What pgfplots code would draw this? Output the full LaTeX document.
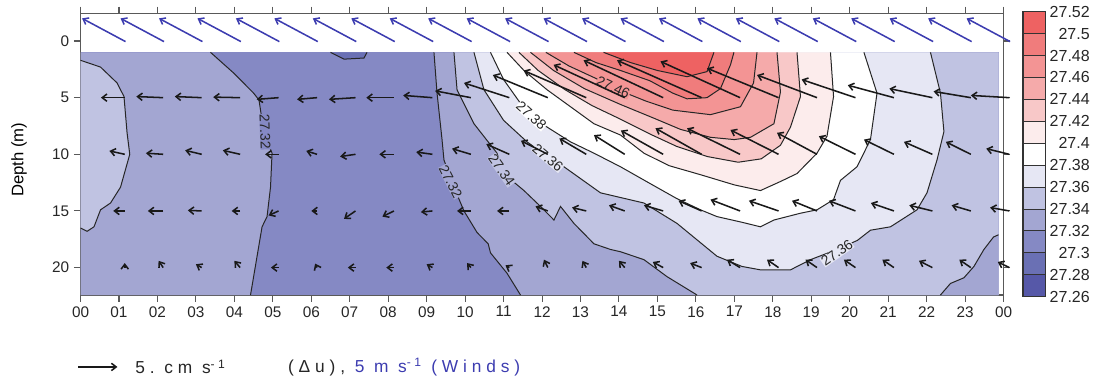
\documentclass[border=0pt]{standalone}
\usepackage{fontspec}
\setmainfont{Liberation Sans}
\newfontfamily\legfont[LetterSpace=28]{Liberation Sans}
\usepackage{pgfplots}
\pgfplotsset{compat=1.18}
\usepackage{pgfplotstable}
\usetikzlibrary{arrows.meta}

\definecolor{cA}{HTML}{5658A8}
\definecolor{cB}{HTML}{6A70B4}
\definecolor{cC}{HTML}{8589C4}
\definecolor{cD}{HTML}{A3A6D2}
\definecolor{cE}{HTML}{C0C3E2}
\definecolor{cF}{HTML}{E6E7F4}
\definecolor{cG}{HTML}{FFFFFF}
\definecolor{cH}{HTML}{FCECEC}
\definecolor{cI}{HTML}{F8C8C8}
\definecolor{cJ}{HTML}{F5AAAA}
\definecolor{cK}{HTML}{F39494}
\definecolor{cL}{HTML}{F07C7C}
\definecolor{cM}{HTML}{EE6262}
\definecolor{wind}{HTML}{3C3CB0}

\tikzset{
  cline/.style={draw=black!85, line width=0.75pt},
  clab/.style={font=\fontsize{10.5}{12}\selectfont, inner sep=0.2pt, text=black!85},
  vec/.style={black!90, line width=1.15pt, -{Straight Barb[length=3.6pt,width=5.5pt]}},
}

% contour lines (hour, depth)
\pgfplotstableread{
x y
3.38 1
3.99 2.85
4.5 4.6
4.64 5.2
4.77 8.1
4.98 9.9
4.94 12.9
4.85 15.5
4.72 16.4
4.42 22.42
}\cLa
\pgfplotstableread{
x y
9.19 1
9.27 4.6
9.4 8.7
9.45 10.5
9.71 12.9
9.97 15.0
10.31 16.9
10.6 17.9
10.66 18.7
11.09 20.5
11.44 22.42
}\cRa
\pgfplotstableread{
x y
0 1.7
0.52 2.3
0.95 3.7
1.13 4.9
1.21 8.1
1.28 10
1.04 12.9
0.78 14.3
0.52 14.9
0.35 16.4
0.17 16.8
0 16.5
}\cLp
\pgfplotstableread{
x y
6.5 1
6.85 1.6
7.37 1.5
7.45 1
}\cTp
\pgfplotstableread{
x y
9.71 1
9.79 4.3
10.23 7.3
10.83 9.9
11.0 11.7
11.53 13.2
11.96 14.6
12.31 15.8
12.48 14.6
12.83 16.1
13.35 17.9
13.78 18.4
14.04 18.6
14.65 19.3
15.25 20.8
16.03 22.42
}\cRb
\pgfplotstableread{
x y
22.36 22.42
22.62 21.4
22.97 20.9
23.23 19.9
23.49 18.4
23.74 17.3
23.87 17.1
}\cBR
\pgfplotstableread{
x y
10.23 1
10.49 4.3
11.0 7.0
11.61 8.9
12.31 10.6
12.57 11.1
13.52 13.4
14.65 14.3
15.51 16.1
16.55 19.0
17.2 19.9
17.68 20.2
18.46 20.2
18.98 19.3
19.67 18.4
20.2 17.6
20.54 16.7
21.06 16.4
21.75 14.9
22.01 13.4
22.27 10.5
22.45 8.0
22.36 4.6
22.1 1
}\cRc
\pgfplotstableread{
x y
10.66 1
11.0 3.4
11.44 5.5
11.9 7.1
12.74 8.9
13.35 9.9
14.04 11.1
14.82 12.6
15.5 13.9
16.12 14.9
16.55 15.5
17.2 16.0
17.68 16.4
18.03 15.8
18.72 15.2
19.15 14.9
19.58 14.0
19.76 12.3
20.19 11.1
20.54 8.7
20.71 4.6
20.37 1
}\cRd
\pgfplotstableread{
x y
11.09 1
11.53 2.6
12.13 4.3
12.74 5.8
13.35 7.3
14.04 8.3
14.65 9.9
15.3 11.0
16.12 11.8
17.0 12.7
17.68 13.2
18.2 12.4
18.63 11.7
19.15 9.9
19.41 8.4
19.58 4.9
19.5 1
}\cRe
\pgfplotstableread{
x y
11.4 1
11.9 2.6
12.6 4.3
13.3 5.7
14.04 6.9
14.8 8.2
15.5 9.3
16.3 10.2
17.1 10.7
17.7 10.4
18.2 9.2
18.46 7.6
18.72 4.9
18.63 1
}\cRf
\pgfplotstableread{
x y
11.7 1
12.3 2.6
13.1 4.2
14.04 5.6
14.9 6.8
15.6 7.8
16.38 8.5
17.0 8.7
17.42 8.5
18.03 7.3
18.2 4.5
18.11 1
}\cRg
\pgfplotstableread{
x y
12.1 1
12.7 2.2
13.4 3.3
14.04 4.4
14.7 5.3
15.4 6.1
16.38 6.5
17.16 5.8
17.5 3.7
17.59 1
}\cRh
\pgfplotstableread{
x y
12.83 1
13.4 1.9
14.04 2.6
14.8 3.5
15.4 4.6
15.77 5.1
16.29 5.0
16.64 4.2
16.9 2.1
16.99 1
}\cRi
\pgfplotstableread{
x y
13.6 1
14.3 1.9
15.0 2.6
15.77 3.15
16.29 2.7
16.47 1
}\cRj

% current vectors (tail hour, depth, du, dv)
\pgfplotstableread{
x y u v
1.15 5 -0.62 0
2.15 5 -0.70 -0.1
3.15 5 -0.70 -0.1
4.15 5 -0.70 -0.05
5.15 5 -0.57 0.15
6.15 5 -0.52 0.15
7.15 5 -0.69 0.15
8.15 5 -0.72 0
9.15 5 -0.76 -0.2
10.15 5 -0.93 -0.6
11.15 5 -1.18 -1.3
12.15 5 -1.43 -2.0
13.15 5 -1.63 -2.4
14.15 5 -1.85 -2.9
15.15 5 -2.07 -3.3
16.15 5 -2.2 -3.3
17.15 5 -2.07 -3.2
18.15 5 -1.86 -2.6
19.15 5 -1.56 -2.0
20.15 5 -1.4 -1.6
21.15 5 -1.2 -1.1
22.15 5 -1.12 -0.8
23.15 5 -0.97 -0.55
24.15 5 -1.0 -0.2
}\vecfive
\pgfplotstableread{
x y u v
1.15 10 -0.4 -0.3
2.15 10 -0.45 -0.1
3.15 10 -0.43 -0.35
4.15 10 -0.45 -0.35
5.15 10 -0.35 0
6.15 10 -0.28 -0.3
7.15 10 -0.4 0.2
8.15 10 -0.38 0
9.15 10 -0.42 -0.2
10.15 10 -0.49 -0.5
11.15 10 -0.6 -0.9
12.15 10 -0.7 -1.2
13.15 10 -0.7 -1.4
14.15 10 -0.8 -1.7
15.15 10 -1.1 -2.1
16.15 10 -1.2 -2.3
17.15 10 -1.38 -2.3
18.15 10 -1.25 -2.15
19.15 10 -1.04 -1.9
20.15 10 -0.95 -1.6
21.15 10 -0.78 -1.3
22.15 10 -0.74 -1.1
23.15 10 -0.65 -1.1
24.15 10 -0.6 -0.5
}\vecten
\pgfplotstableread{
x y u v
1.15 15 -0.3 0
2.15 15 -0.4 0
3.15 15 -0.36 -0.05
4.15 15 -0.22 0
5.15 15 -0.26 0.4
6.15 15 -0.15 0
7.15 15 -0.3 0.7
8.15 15 -0.3 0.5
9.15 15 -0.3 0.1
10.15 15 -0.36 0
11.15 15 -0.32 0
12.15 15 -0.32 -0.4
13.15 15 -0.37 -0.3
14.15 15 -0.41 -0.5
15.15 15 -0.5 -0.5
16.15 15 -0.6 -0.9
17.15 15 -0.77 -1.0
18.15 15 -0.77 -0.9
19.15 15 -0.65 -0.9
20.15 15 -0.69 -0.9
21.15 15 -0.6 -0.7
22.15 15 -0.6 -0.5
23.15 15 -0.5 -0.5
24.15 15 -0.5 -0.3
}\vecfifteen
\pgfplotstableread{
x y u v
1.15 20 0 -0.4
2.15 20 -0.12 -0.6
3.15 20 -0.15 -0.3
4.15 20 -0.15 -0.6
5.15 20 -0.2 0
6.15 20 -0.05 -0.35
7.15 20 -0.2 0
8.15 20 -0.2 0
9.15 20 -0.15 -0.3
10.15 20 -0.1 -0.4
11.15 20 -0.1 -0.2
12.15 20 -0.1 -0.7
13.15 20 -0.1 -0.6
14.15 20 -0.15 -0.6
15.15 20 -0.27 -0.5
16.15 20 -0.3 -0.4
17.15 20 -0.34 -0.7
18.15 20 -0.3 -0.7
19.15 20 -0.3 -0.7
20.15 20 -0.3 -0.7
21.15 20 -0.3 -0.7
22.15 20 -0.35 -0.6
23.15 20 -0.3 -0.7
24.15 20 -0.3 -0.5
}\vectwenty
\pgfplotstableread{
x y u v
1.17 0.05 -1.13 -2.05
2.17 0.05 -1.13 -2.05
3.17 0.05 -1.13 -2.05
4.17 0.05 -1.13 -2.05
5.17 0.05 -1.13 -2.05
6.17 0.05 -1.13 -2.05
7.17 0.05 -1.13 -2.05
8.17 0.05 -1.13 -2.05
9.17 0.05 -1.13 -2.05
10.17 0.05 -1.13 -2.05
11.17 0.05 -1.13 -2.05
12.17 0.05 -1.13 -2.05
13.17 0.05 -1.13 -2.05
14.17 0.05 -1.13 -2.05
15.17 0.05 -1.13 -2.05
16.17 0.05 -1.13 -2.05
17.17 0.05 -1.13 -2.05
18.17 0.05 -1.13 -2.05
19.17 0.05 -1.13 -2.05
20.17 0.05 -1.13 -2.05
21.17 0.05 -1.13 -2.05
22.17 0.05 -1.13 -2.05
23.17 0.05 -1.13 -2.05
24.17 0.05 -1.13 -2.05
}\vecwind

\begin{document}
\begin{tikzpicture}
\begin{axis}[
  name=main, scale only axis, width=692.25pt, height=211.3pt,
  xmin=0, xmax=24, ymin=-2.45, ymax=22.42, y dir=reverse, clip=false,
  axis line style={draw=black!65, line width=1.1pt},
  tick align=outside, major tick length=5pt,
  tick style={draw=black!65, line width=0.8pt},
  xtick={0,1,...,24},
  xticklabels={00,01,02,03,04,05,06,07,08,09,10,11,12,13,14,15,16,17,18,19,20,21,22,23,00},
  ytick={0,5,10,15,20}, yticklabels={0,5,10,15,20},
  ticklabel style={font=\fontsize{11.5}{13}\selectfont, text=black!85},
  ylabel={Depth (m)},
  ylabel style={font=\fontsize{12.5}{14}\selectfont, at={(axis description cs:-0.058,0.48)}, anchor=south, inner sep=0pt},
]
% filled contours (painter's order)
\addplot[fill=cC, draw=none] coordinates {(0,1) (23.87,1) (23.87,22.42) (0,22.42)} -- cycle;
\addplot[fill=cD, draw=none] table {\cLa} -- (axis cs:0,22.42) -- (axis cs:0,1) -- cycle;
\addplot[fill=cD, draw=none] table {\cRa} -- (axis cs:23.87,22.42) -- (axis cs:23.87,1) -- cycle;
\addplot[fill=cB, draw=none] table {\cTp} -- cycle;
\addplot[fill=cE, draw=none] table {\cLp} -- cycle;
\addplot[fill=cE, draw=none] table {\cRb} -- (axis cs:23.87,22.42) -- (axis cs:23.87,1) -- cycle;
\addplot[fill=cD, draw=none] table {\cBR} -- (axis cs:23.87,22.42) -- cycle;
\addplot[fill=cF, draw=none] table {\cRc} -- cycle;
\addplot[fill=cG, draw=none] table {\cRd} -- cycle;
\addplot[fill=cH, draw=none] table {\cRe} -- cycle;
\addplot[fill=cI, draw=none] table {\cRf} -- cycle;
\addplot[fill=cJ, draw=none] table {\cRg} -- cycle;
\addplot[fill=cK, draw=none] table {\cRh} -- cycle;
\addplot[fill=cL, draw=none] table {\cRi} -- cycle;
\addplot[fill=cM, draw=none] table {\cRj} -- cycle;
% contour lines
\addplot[cline] table {\cLa};
\addplot[cline] table {\cRa};
\addplot[cline] table {\cTp};
\addplot[cline] table {\cLp};
\addplot[cline] table {\cRb};
\addplot[cline] table {\cBR};
\addplot[cline] table {\cRc};
\addplot[cline] table {\cRd};
\addplot[cline] table {\cRe};
\addplot[cline] table {\cRf};
\addplot[cline] table {\cRg};
\addplot[cline] table {\cRh};
\addplot[cline] table {\cRi};
\addplot[cline] table {\cRj};
% contour labels
\node[clab, rotate=-88, fill=cC] at (axis cs:4.8,8.0) {27.32};
\node[clab, rotate=-63, fill=cD] at (axis cs:9.62,12.4) {27.32};
\node[clab, rotate=-55, fill=cE] at (axis cs:10.95,11.4) {27.34};
\node[clab, rotate=-40, fill=cF] at (axis cs:12.15,10.3) {27.36};
\node[clab, rotate=-42, fill=cG] at (axis cs:11.72,6.6) {27.38};
\node[clab, rotate=-25, fill=cK] at (axis cs:13.85,4.1) {27.46};
\node[clab, rotate=35, fill=cF] at (axis cs:19.67,18.7) {27.36};
% vectors
\addplot[vec, quiver={u=\thisrow{u}, v=\thisrow{v}}] table {\vecfive};
\addplot[vec, quiver={u=\thisrow{u}, v=\thisrow{v}}] table {\vecten};
\addplot[vec, quiver={u=\thisrow{u}, v=\thisrow{v}}] table {\vecfifteen};
\addplot[vec, quiver={u=\thisrow{u}, v=\thisrow{v}}] table {\vectwenty};
\addplot[vec, wind, quiver={u=\thisrow{u}, v=\thisrow{v}}] table {\vecwind};
% legend key
\draw[vec] (axis cs:-0.065,28.77) -- (axis cs:0.96,28.77);
\node[anchor=west, inner sep=0pt, font=\fontsize{13}{15}\selectfont, text=black!85] at (axis cs:1.42,28.77) {\legfont 5.\ cm\ s\textsuperscript{-1}};
\node[anchor=west, inner sep=0pt, font=\fontsize{13}{15}\selectfont, text=black!85] at (axis cs:5.39,28.77) {\legfont (Δu), \textcolor{wind}{5\ m\ s\textsuperscript{-1} (Winds)}};
\end{axis}

\begin{axis}[
  at={(main.north east)}, anchor=north west, xshift=14.6pt, yshift=1.2pt,
  scale only axis, width=16.5pt, height=213.75pt,
  xmin=0, xmax=1, ymin=0, ymax=13,
  xtick=\empty, ytick={0,1,...,13},
  yticklabels={27.26,27.28,27.3,27.32,27.34,27.36,27.38,27.4,27.42,27.44,27.46,27.48,27.5,27.52},
  yticklabel pos=right, major tick length=0pt,
  axis line style={draw=black!80, line width=0.8pt},
  yticklabel style={font=\fontsize{12}{14}\selectfont, text width=30pt, align=right, text=black!85},
]
\addplot[fill=cA, draw=black!80, line width=0.7pt] coordinates {(0,0) (1,0) (1,1) (0,1)} -- cycle;
\addplot[fill=cB, draw=black!80, line width=0.7pt] coordinates {(0,1) (1,1) (1,2) (0,2)} -- cycle;
\addplot[fill=cC, draw=black!80, line width=0.7pt] coordinates {(0,2) (1,2) (1,3) (0,3)} -- cycle;
\addplot[fill=cD, draw=black!80, line width=0.7pt] coordinates {(0,3) (1,3) (1,4) (0,4)} -- cycle;
\addplot[fill=cE, draw=black!80, line width=0.7pt] coordinates {(0,4) (1,4) (1,5) (0,5)} -- cycle;
\addplot[fill=cF, draw=black!80, line width=0.7pt] coordinates {(0,5) (1,5) (1,6) (0,6)} -- cycle;
\addplot[fill=cG, draw=black!80, line width=0.7pt] coordinates {(0,6) (1,6) (1,7) (0,7)} -- cycle;
\addplot[fill=cH, draw=black!80, line width=0.7pt] coordinates {(0,7) (1,7) (1,8) (0,8)} -- cycle;
\addplot[fill=cI, draw=black!80, line width=0.7pt] coordinates {(0,8) (1,8) (1,9) (0,9)} -- cycle;
\addplot[fill=cJ, draw=black!80, line width=0.7pt] coordinates {(0,9) (1,9) (1,10) (0,10)} -- cycle;
\addplot[fill=cK, draw=black!80, line width=0.7pt] coordinates {(0,10) (1,10) (1,11) (0,11)} -- cycle;
\addplot[fill=cL, draw=black!80, line width=0.7pt] coordinates {(0,11) (1,11) (1,12) (0,12)} -- cycle;
\addplot[fill=cM, draw=black!80, line width=0.7pt] coordinates {(0,12) (1,12) (1,13) (0,13)} -- cycle;
\end{axis}

\pgfresetboundingbox
\path (main.south west) ++(-60.4pt,-63pt) rectangle ++(822.75pt,284.25pt);
\end{tikzpicture}
\end{document}
